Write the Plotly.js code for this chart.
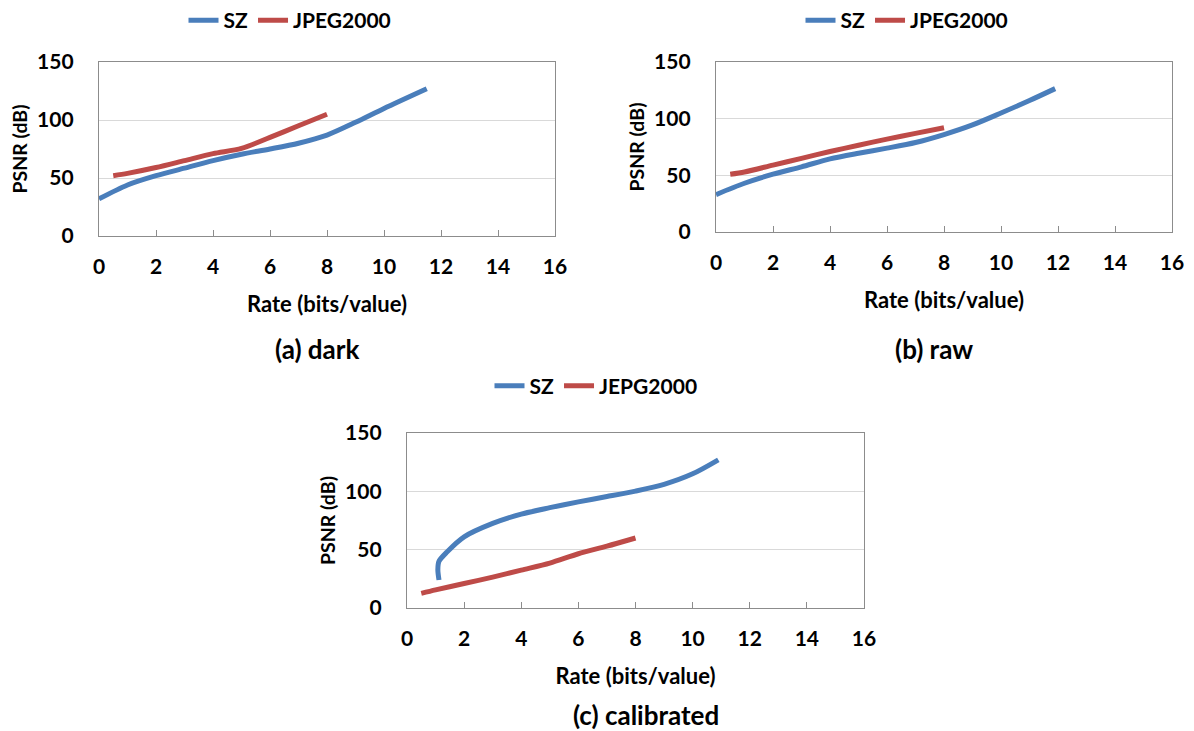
<!DOCTYPE html>
<html>
<head>
<meta charset="utf-8">
<script src="https://cdn.plot.ly/plotly-3.0.1.min.js"></script>
<style>
  html, body { margin: 0; padding: 0; background: #ffffff; }
  #chart { width: 1194px; height: 731px; }
</style>
</head>
<body>
<div id="chart"></div>
<script>
// ---- data ----
const xTickVals = [0, 2, 4, 6, 8, 10, 12, 14, 16];
const yTickVals = [0, 50, 100, 150];

// (a) dark
const darkRateSZ   = [0, 1, 2, 3, 4, 5, 6, 7, 8, 9, 10, 11.5];
const darkPsnrSZ   = [32, 44, 52, 58.5, 65, 70.5, 75, 80, 87, 98, 110, 127];
const darkRateJP   = [0.5, 1, 2, 3, 4, 5, 6, 7, 8];
const darkPsnrJP   = [52, 54, 59, 65, 71, 75.5, 85, 95, 105];

// (b) raw
const rawRateSZ    = [0, 1, 2, 3, 4, 5, 6, 7, 8, 9, 10, 11, 11.9];
const rawPsnrSZ    = [33, 43, 51, 57.5, 64.5, 69.5, 74, 79, 86, 94.5, 105, 116, 126.5];
const rawRateJP    = [0.5, 1, 2, 3, 4, 5, 6, 7, 8];
const rawPsnrJP    = [51, 53, 59, 65, 71, 76.5, 82, 87, 92];

// (c) calibrated
const calRateSZ    = [1.12, 1.08, 1.12, 1.4, 2, 3, 4, 5, 6, 7, 8, 9, 10, 10.9];
const calPsnrSZ    = [24, 33, 40, 48, 61, 72.5, 80.5, 86, 91, 95.5, 100.2, 106, 115, 127];
const calRateJP    = [0.5, 1, 2, 3, 4, 5, 6, 7, 8];
const calPsnrJP    = [12.5, 15.5, 21, 26.5, 32.5, 38.5, 46.5, 53, 60];

const seriesNames  = ['SZ', 'JPEG2000'];
const seriesNamesC = ['SZ', 'JEPG2000'];
const panelTitles  = ['(a) dark', '(b) raw', '(c) calibrated'];
const xTitle = 'Rate (bits/value)';
const yTitle = 'PSNR (dB)';

// ---- styles ----
const BLUE = '#4A7EBB';
const RED  = '#BE4B48';
const FONT = 'Lato, "Open Sans", "DejaVu Sans", sans-serif';
const LW = 5;

function line(x, y, name, color, xa, ya, legend) {
  return {
    type: 'scatter', mode: 'lines', x: x, y: y, name: name,
    xaxis: xa, yaxis: ya, legend: legend,
    line: { color: color, width: LW, shape: 'spline', smoothing: 0.8 },
    hoverinfo: 'x+y+name'
  };
}

const traces = [
  line(darkRateSZ, darkPsnrSZ, seriesNames[0], BLUE, 'x',  'y',  'legend'),
  line(darkRateJP, darkPsnrJP, seriesNames[1], RED,  'x',  'y',  'legend'),
  line(rawRateSZ,  rawPsnrSZ,  seriesNames[0], BLUE, 'x2', 'y2', 'legend2'),
  line(rawRateJP,  rawPsnrJP,  seriesNames[1], RED,  'x2', 'y2', 'legend2'),
  line(calRateSZ,  calPsnrSZ,  seriesNamesC[0], BLUE, 'x3', 'y3', 'legend3'),
  line(calRateJP,  calPsnrJP,  seriesNamesC[1], RED,  'x3', 'y3', 'legend3')
];

const W = 1194, H = 731;
function px(x) { return x / W; }
function py(y) { return 1 - y / H; }

function xaxis(d0, d1, anchor) {
  return {
    domain: [px(d0), px(d1)], anchor: anchor,
    range: [0, 16], tickvals: xTickVals, ticktext: xTickVals.map(String),
    showgrid: false, zeroline: false,
    showline: true, linecolor: '#8c8c8c', linewidth: 1.3, mirror: true,
    ticks: 'inside', ticklen: 6, tickcolor: '#8c8c8c', tickwidth: 1.3,
    ticklabelstandoff: 12,
    tickfont: { family: FONT, size: 21, color: '#000', weight: 'bold' },
    title: { text: xTitle, standoff: 19, font: { family: FONT, size: 22, color: '#000', weight: 'bold' } },
    fixedrange: true
  };
}
function yaxis(d0, d1, anchor) {
  return {
    domain: [py(d1), py(d0)], anchor: anchor,
    range: [0, 150], tickvals: yTickVals, ticktext: yTickVals.map(String),
    showgrid: true, gridcolor: '#d9d9d9', gridwidth: 1.3, zeroline: false,
    showline: true, linecolor: '#8c8c8c', linewidth: 1.3, mirror: true,
    ticks: '', ticklabelstandoff: 20,
    tickfont: { family: FONT, size: 21, color: '#000', weight: 'bold' },
    title: { text: yTitle, standoff: 4, font: { family: FONT, size: 19.5, color: '#000', weight: 'bold' } },
    fixedrange: true
  };
}
function legend(cx, y, anchor) {
  return {
    orientation: 'h', x: px(cx), y: y, xanchor: 'center', yanchor: anchor,
    font: { family: FONT, size: 21, color: '#000', weight: 'bold' },
    bgcolor: 'rgba(0,0,0,0)', itemclick: false, itemdoubleclick: false,
    tracegroupgap: 0, itemwidth: 30
  };
}
function panelTitle(text, cx, cy) {
  return {
    text: text, xref: 'paper', yref: 'paper', x: px(cx), y: py(cy),
    xanchor: 'center', yanchor: 'middle', showarrow: false,
    font: { family: FONT, size: 26, color: '#000', weight: 'bold' }
  };
}

const layout = {
  width: W, height: H,
  margin: { l: 0, r: 0, t: 0, b: 0 },
  paper_bgcolor: '#ffffff', plot_bgcolor: '#ffffff',
  showlegend: true,
  xaxis:  xaxis(99, 555, 'y'),
  yaxis:  yaxis(62, 236, 'x'),
  xaxis2: xaxis(716, 1172, 'y2'),
  yaxis2: yaxis(62, 232, 'x2'),
  xaxis3: xaxis(407, 864, 'y3'),
  yaxis3: yaxis(433, 608, 'x3'),
  legend:  legend(290, 1, 'top'),
  legend2: legend(907, 1, 'top'),
  legend3: legend(596, py(386), 'middle'),
  annotations: [
    panelTitle(panelTitles[0], 317, 349),
    panelTitle(panelTitles[1], 934, 349),
    panelTitle(panelTitles[2], 646, 715)
  ]
};

Plotly.newPlot('chart', traces, layout, { displayModeBar: false, staticPlot: false, responsive: false });
</script>
</body>
</html>
